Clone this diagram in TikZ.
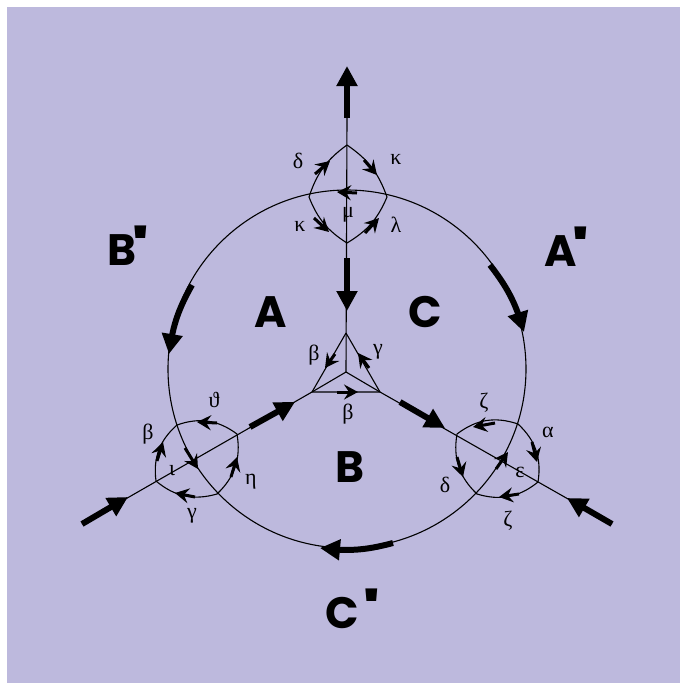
\documentclass[tikz,border=0pt]{standalone}
\usepackage{fontspec}
\usetikzlibrary{arrows.meta,bending}
\newfontfamily\biglabfont{Poppins}
\newfontfamily\greekfont{Liberation Serif}
\definecolor{bgpurple}{HTML}{BDB9DD}
\newcommand{\primemark}{\hspace{-5pt}\raisebox{-6pt}{\scalebox{2.8}[1.9]{\fontsize{30}{32}\selectfont'}}}
\tikzset{
  wire/.style={line width=1.1pt,black},
  bigarrow/.style={line width=6pt,black,-{Stealth[length=20pt,width=20pt,inset=0pt,flex=1]}},
  smallarrow/.style={line width=3pt,black,-{Stealth[length=14pt,width=15pt,inset=5pt,flex=1]}},
  greek/.style={inner sep=0pt,font=\greekfont\fontsize{22}{24}\selectfont},
  region/.style={inner sep=0pt,font=\biglabfont\bfseries\fontsize{44}{48}\selectfont}
}
\begin{document}
\begin{tikzpicture}[x=1pt,y=1pt,yscale=-1]
\useasboundingbox (0,0) rectangle (680,683);
\fill[white] (0,0) rectangle (680,683);
\fill[bgpurple] (7,7) rectangle (680,683);
\coordinate (O) at (347,369);
\coordinate (cen) at (346,372);
\coordinate (tt) at (346,333);
\coordinate (bl) at (312,392);
\coordinate (br) at (380,392);
% top loop
\coordinate (tA) at (347,145);
\coordinate (tL) at (309,197);
\coordinate (tR) at (387,197);
\coordinate (tB) at (347,243);
% left loop
\coordinate (lA) at (237,434);
\coordinate (lB) at (177,425);
\coordinate (lC) at (156,481);
\coordinate (lD) at (217,494);
% right loop
\coordinate (rA) at (457,434);
\coordinate (rB) at (518,424);
\coordinate (rC) at (538,482);
\coordinate (rD) at (477,494);
% ends of the long arrows
\coordinate (upT) at (347,118);  \coordinate (upH) at (347,66);
\coordinate (dnT) at (347,258);  \coordinate (dnH) at (347,311);
\coordinate (llT) at (82,524);   \coordinate (llH) at (128,497);
\coordinate (luT) at (250,427);  \coordinate (luH) at (295,402);
\coordinate (ruT) at (400,402);  \coordinate (ruH) at (445,428);
\coordinate (rlT) at (612,524);  \coordinate (rlH) at (567,498);
% circle arrows
\coordinate (bpT) at (192,285);  \coordinate (bpH) at (169,354);
\coordinate (apT) at (490,265);  \coordinate (apH) at (524,332);
\coordinate (cpT) at (393,543);  \coordinate (cpH) at (320,548);
\draw[wire] (O) circle[radius=179];
\draw[wire] (tt) -- (bl) -- (br) -- (tt);
\draw[wire] (bl) -- (cen) -- (br);
\draw[wire] (cen) -- (upT);
\draw[wire] (bl) -- (llT);
\draw[wire] (br) -- (rlT);
% loops
\draw[wire] (tA) to[bend right=18] (tR) to[bend right=18] (tB) to[bend right=18] (tL) to[bend right=18] (tA);
\draw[wire] (lA) to[bend left=28] (lB) to[bend left=28] (lC) to[bend left=28] (lD) to[bend left=28] (lA);
\draw[wire] (rA) to[bend left=28] (rD) to[bend left=28] (rC) to[bend left=28] (rB) to[bend left=28] (rA);
% big arrows
\draw[bigarrow] (upT) -- (upH);
\draw[bigarrow] (dnT) -- (dnH);
\draw[bigarrow] (llT) -- (llH);
\draw[bigarrow] (luT) -- (luH);
\draw[bigarrow] (ruT) -- (ruH);
\draw[bigarrow] (rlT) -- (rlH);
\draw[bigarrow] (bpT) to[bend left=11] (bpH);
\draw[bigarrow] (apT) to[bend right=11] (apH);
\draw[bigarrow] (cpT) to[bend right=11] (cpH);
% small arrows
\foreach \n/\ta/\tb/\ha/\hb in {
 s1/315/174/330/161, s2/364/160/377/175, s3/314/218/329/232, s4/365/233/379/218, s5/357/193/337/192,
 s6/335/354/325/368, s7/369/368/358/353, s8/337/392/358/392,
 s9/217/423/197/422, s10/157/461/163/442, s11/231/477/237/457, s12/195/497/175/493, s13/185/448/198/469,
 s14/495/423/473/427, s15/532/442/537/462, s16/519/494/499/497, s17/457/457/463/477, s18/496/469/508/452}{
  \coordinate (\n T) at (\ta,\tb);
  \coordinate (\n H) at (\ha,\hb);
  \draw[smallarrow] (\n T) -- (\n H);
}
% greek labels
\node[greek] (g1) at (298,161) {δ};
\node[greek] (g2) at (396,159) {κ};
\node[greek] (g3) at (300,226) {κ};
\node[greek] (g4) at (348,215) {μ};
\node[greek] (g5) at (396,225) {λ};
\node[greek] (g6) at (314,355) {β};
\node[greek] (g7) at (378,352) {γ};
\node[greek] (g8) at (348,414) {β};
\node[greek] (g9) at (214,400) {ϑ};
\node[greek] (g10) at (148,434) {β};
\node[greek] (g11) at (172,471) {ι};
\node[greek] (g12) at (251,482) {η};
\node[greek] (g13) at (192,516) {γ};
\node[greek] (g14) at (484,403) {ζ};
\node[greek] (g15) at (548,432) {α};
\node[greek] (g16) at (445,485) {δ};
\node[greek] (g17) at (520,472) {ε};
\node[greek] (g18) at (508,521) {ζ};
% region labels
\node[region] (A) at (270.5,312) {A};
\node[region] (C) at (425,312) {C};
\node[region] (B) at (350,467) {B};
\node[region,anchor=base west] (Bp) at (107,265) {B\primemark};
\node[region,anchor=base west] (Ap) at (544,266) {A\primemark};
\node[region,anchor=base west] (Cp) at (325,628) {C\hspace{9pt}\primemark};
\end{tikzpicture}
\end{document}
